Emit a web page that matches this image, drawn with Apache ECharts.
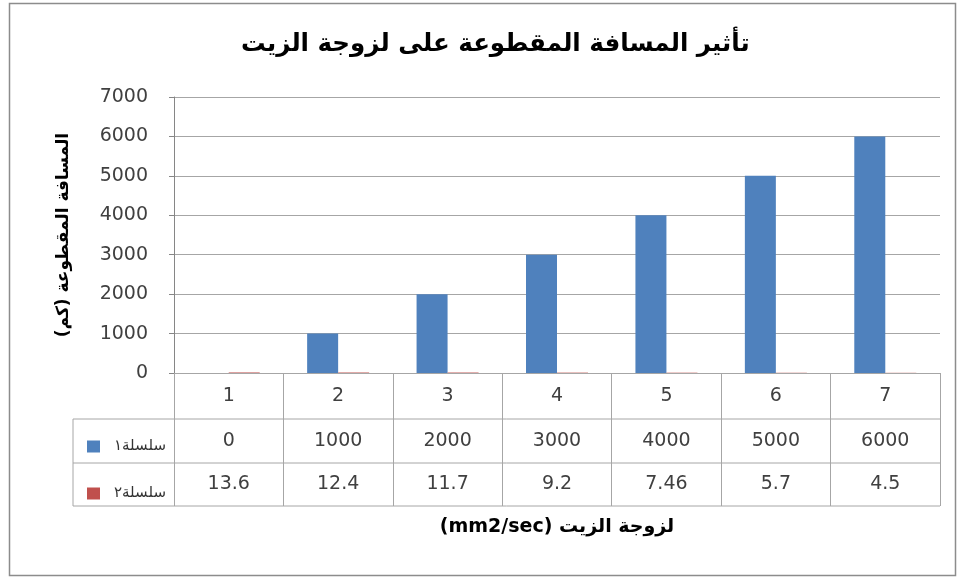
<!DOCTYPE html>
<html><head><meta charset="utf-8">
<script src="https://cdn.jsdelivr.net/npm/echarts@6/dist/echarts.min.js"></script>
<style>html,body{margin:0;padding:0;background:#fff}#c{width:961px;height:579px}</style>
</head><body><div id="c"></div>
<script>
// ---- data ----
const categories = ['1','2','3','4','5','6','7'];
const series1Values = [0,1000,2000,3000,4000,5000,6000];
const series2Values = [13.6,12.4,11.7,9.2,7.46,5.7,4.5];
const seriesNames = ['سلسلة١','سلسلة٢'];
const titleText = 'تأثير المسافة المقطوعة على لزوجة الزيت';
const xAxisTitle = 'لزوجة الزيت (mm2/sec)';
const yAxisTitle = 'المسافة المقطوعة (كم)';
const yMin = 0, yMax = 7000, yStep = 1000;

// ---- style ----
const RLE = '\u202B', PDF = '\u202C';
const numFont = 'DejaVu Sans';
const arFont = 'DejaVu Sans';
const lineColor = '#a6a6a6';
const textColor = '#404040';
const ROW1 = 46, ROW2 = 44, ROW3 = 43, LEGCOL = 101;

const chart = echarts.init(document.getElementById('c'), null, {renderer: 'canvas'});
const option = {
  animation: false,
  backgroundColor: '#fff',
  title: {
    text: titleText, left: 236, top: 27,
    textStyle: {fontFamily: arFont, fontWeight: 'bold', fontSize: 24.5, color: '#000'}
  },
  legend: {
    orient: 'vertical', left: 82, top: 434, itemWidth: 13, itemHeight: 12, itemGap: 32,
    icon: 'rect', selectedMode: false, data: seriesNames,
    textStyle: {fontFamily: arFont, fontSize: 15, color: '#333', padding: [0, 0, 0, 9]}
  },
  grid: {left: 174, right: 21, top: 97, bottom: 206},
  xAxis: {
    type: 'category', data: categories,
    name: RLE + xAxisTitle + PDF, nameLocation: 'middle', nameGap: 145,
    nameTextStyle: {fontFamily: arFont, fontWeight: 'bold', fontSize: 19, color: '#000'},
    axisLine: {show: true, lineStyle: {color: lineColor}},
    axisTick: {show: true, interval: 0, length: ROW1 + ROW2 + ROW3, lineStyle: {color: lineColor}},
    axisLabel: {
      interval: 0, margin: 0,
      formatter: function (v, i) {
        return '{c|' + v + '}\n{v|' + series1Values[i] + '}\n{w|' + series2Values[i] + '}';
      },
      rich: {
        c: {fontFamily: numFont, fontSize: 19, color: textColor, lineHeight: ROW1, height: ROW1},
        v: {fontFamily: numFont, fontSize: 19, color: textColor, lineHeight: ROW2, height: ROW2},
        w: {fontFamily: numFont, fontSize: 19, color: textColor, lineHeight: ROW3, height: ROW3}
      }
    }
  },
  yAxis: {
    type: 'value', min: yMin, max: yMax, interval: yStep,
    name: RLE + yAxisTitle + PDF, nameLocation: 'middle', nameGap: 102, nameRotate: 90,
    nameTextStyle: {fontFamily: arFont, fontWeight: 'bold', fontSize: 17, color: '#000'},
    axisLine: {show: true, lineStyle: {color: '#868686'}},
    axisTick: {show: true, length: 5, lineStyle: {color: '#868686'}},
    axisLabel: {fontFamily: numFont, fontSize: 19, color: textColor, margin: 26,
                formatter: function (v) { return String(v); }},
    splitLine: {show: true, lineStyle: {color: lineColor, width: 1}}
  },
  series: [
    {name: seriesNames[0], type: 'bar', data: series1Values, barWidth: 31, barGap: '0%',
     itemStyle: {color: '#4F81BD'}},
    {name: seriesNames[1], type: 'bar', data: series2Values, barWidth: 31, barGap: '0%',
     itemStyle: {color: '#C0504D'}}
  ]
};
chart.setOption(option);

// ---- data table grid lines, positioned from the chart's own axes ----
const cx0 = chart.convertToPixel({xAxisIndex: 0}, categories[0]);
const cx1 = chart.convertToPixel({xAxisIndex: 0}, categories[1]);
const cxN = chart.convertToPixel({xAxisIndex: 0}, categories[categories.length - 1]);
const bw = cx1 - cx0;
const tLeft = cx0 - bw / 2, tRight = cxN + bw / 2;
const yBase = chart.convertToPixel({yAxisIndex: 0}, yMin);
const rowYs = [yBase + ROW1, yBase + ROW1 + ROW2, yBase + ROW1 + ROW2 + ROW3];
const gl = [];
rowYs.forEach(function (y) {
  gl.push({type: 'line', shape: {x1: tLeft - LEGCOL, y1: y, x2: tRight, y2: y},
           style: {stroke: lineColor, lineWidth: 1}, silent: true});
});
gl.push({type: 'line', shape: {x1: tLeft - LEGCOL, y1: rowYs[0], x2: tLeft - LEGCOL, y2: rowYs[2]},
         style: {stroke: lineColor, lineWidth: 1}, silent: true});
gl.push({type: 'rect', shape: {x: 9.5, y: 3.5, width: 946, height: 572},
         style: {fill: 'none', stroke: '#8c8c8c', lineWidth: 1.5}, silent: true, z: -1});
chart.setOption({graphic: gl});
</script>
</body></html>
